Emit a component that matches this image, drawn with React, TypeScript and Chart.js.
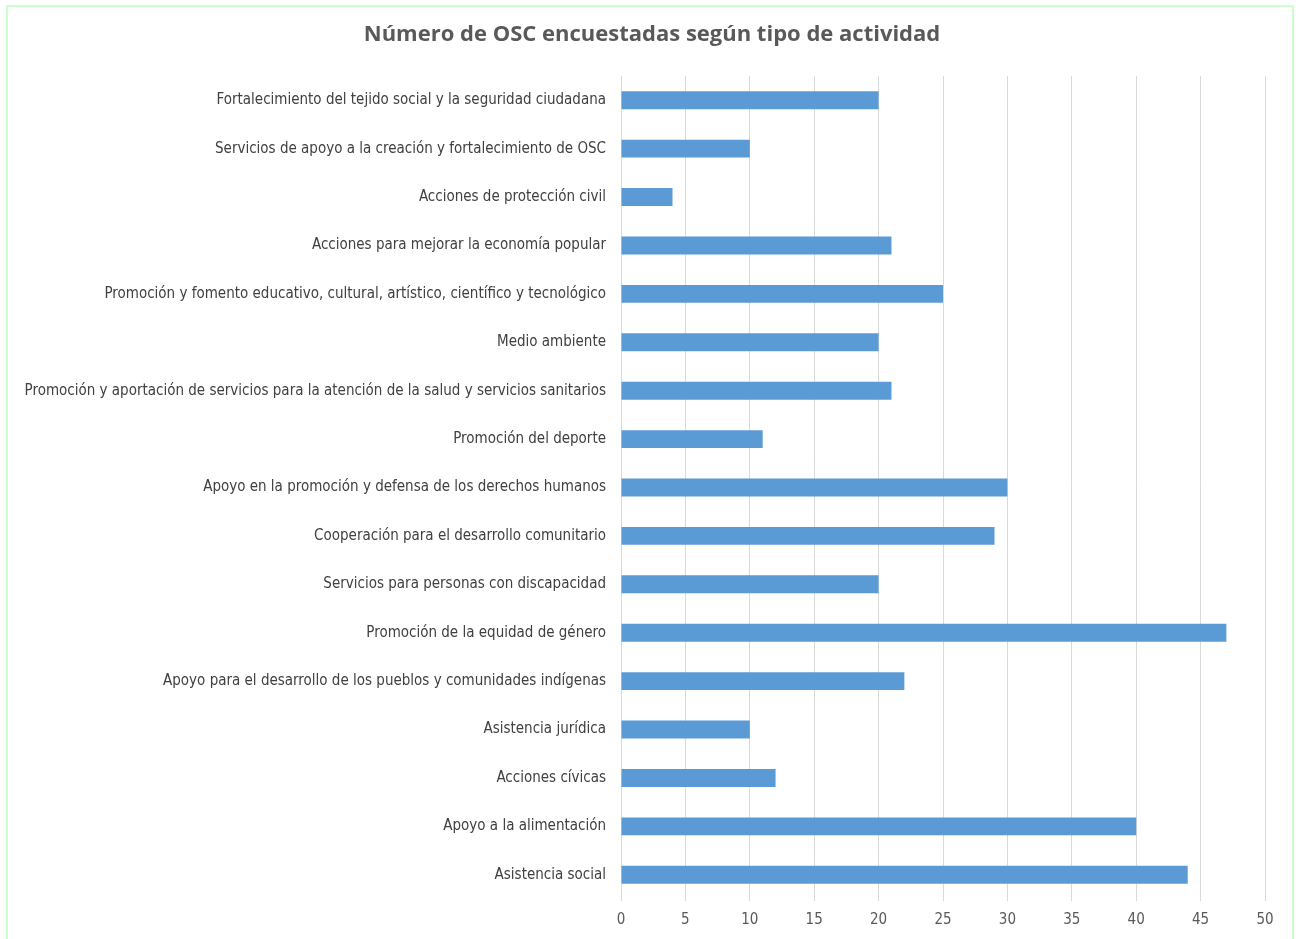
import React, { useEffect, useRef } from "react";
import { Chart, registerables } from "chart.js";

Chart.register(...registerables);

const categories = [
  "Fortalecimiento del tejido social y la seguridad ciudadana",
  "Servicios de apoyo a la creación y fortalecimiento de OSC",
  "Acciones de protección civil",
  "Acciones para mejorar la economía popular",
  "Promoción y fomento educativo, cultural, artístico, científico y tecnológico",
  "Medio ambiente",
  "Promoción y aportación de servicios para la atención de la salud y servicios sanitarios",
  "Promoción del deporte",
  "Apoyo en la promoción y defensa de los derechos humanos",
  "Cooperación para el desarrollo comunitario",
  "Servicios para personas con discapacidad",
  "Promoción de la equidad de género",
  "Apoyo para el desarrollo de los pueblos y comunidades indígenas",
  "Asistencia jurídica",
  "Acciones cívicas",
  "Apoyo a la alimentación",
  "Asistencia social",
];

const values = [20, 10, 4, 21, 25, 20, 21, 11, 30, 29, 20, 47, 22, 10, 12, 40, 44];

const xTicks = [0, 5, 10, 15, 20, 25, 30, 35, 40, 45, 50];

const titleText = "Número de OSC encuestadas según tipo de actividad";

const FONT = "'DejaVu Sans Condensed', 'Liberation Sans Narrow', 'Noto Sans', sans-serif";

const titlePlugin = {
  id: "centeredTitle",
  afterDraw(chart: any) {
    const ctx = chart.ctx;
    ctx.save();
    ctx.font = "bold 22px 'Open Sans', sans-serif";
    ctx.fillStyle = "#595959";
    ctx.textAlign = "center";
    ctx.textBaseline = "middle";
    ctx.fillText(titleText, 652, 35);
    ctx.restore();
  },
};

export default function App() {
  const ref = useRef<HTMLCanvasElement | null>(null);

  useEffect(() => {
    if (!ref.current) return;
    const chart = new Chart(ref.current, {
      type: "bar",
      data: {
        labels: categories,
        datasets: [
          {
            data: values,
            backgroundColor: "#5b9bd5",
            borderColor: "#5b9bd5",
            borderWidth: 0,
            barPercentage: 0.74,
            categoryPercentage: 0.5,
          },
        ],
      },
      plugins: [titlePlugin],
      options: {
        indexAxis: "y",
        animation: false,
        responsive: false,
        maintainAspectRatio: false,
        layout: { padding: { top: 76, right: 33, bottom: 0, left: 0 } },
        plugins: {
          legend: { display: false },
          tooltip: { enabled: false },
          title: { display: false },
        },
        scales: {
          x: {
            type: "linear",
            min: 0,
            max: 50,
            afterBuildTicks: (scale: any) => {
              scale.ticks = xTicks.map((v) => ({ value: v }));
            },
            grid: {
              color: "#d9d9d9",
              lineWidth: 1,
              drawTicks: true,
              tickLength: 2,
            },
            border: { display: false },
            ticks: {
              color: "#595959",
              font: { family: FONT, size: 15 },
              padding: 10,
            },
          },
          y: {
            grid: { display: false },
            border: { display: false },
            afterFit: (scale: any) => {
              scale.width = 621;
            },
            ticks: {
              color: "#404040",
              font: { family: FONT, size: 15 },
              padding: 7,
              autoSkip: false,
            },
          },
        },
      },
    });
    return () => chart.destroy();
  }, []);

  return (
    <div style={{ position: "absolute", left: 0, top: 0, width: 1298, height: 939, background: "#fff", overflow: "hidden" }}>
      <div
        style={{
          position: "absolute",
          left: 6,
          top: 5,
          width: 1284,
          height: 960,
          borderLeft: "2px solid #ccffcc",
          borderTop: "2px solid #ccffcc",
          borderRight: "2px solid #ccffcc",
        }}
      />
      <canvas ref={ref} width={1298} height={939} style={{ position: "absolute", left: 0, top: 0 }} />
    </div>
  );
}
